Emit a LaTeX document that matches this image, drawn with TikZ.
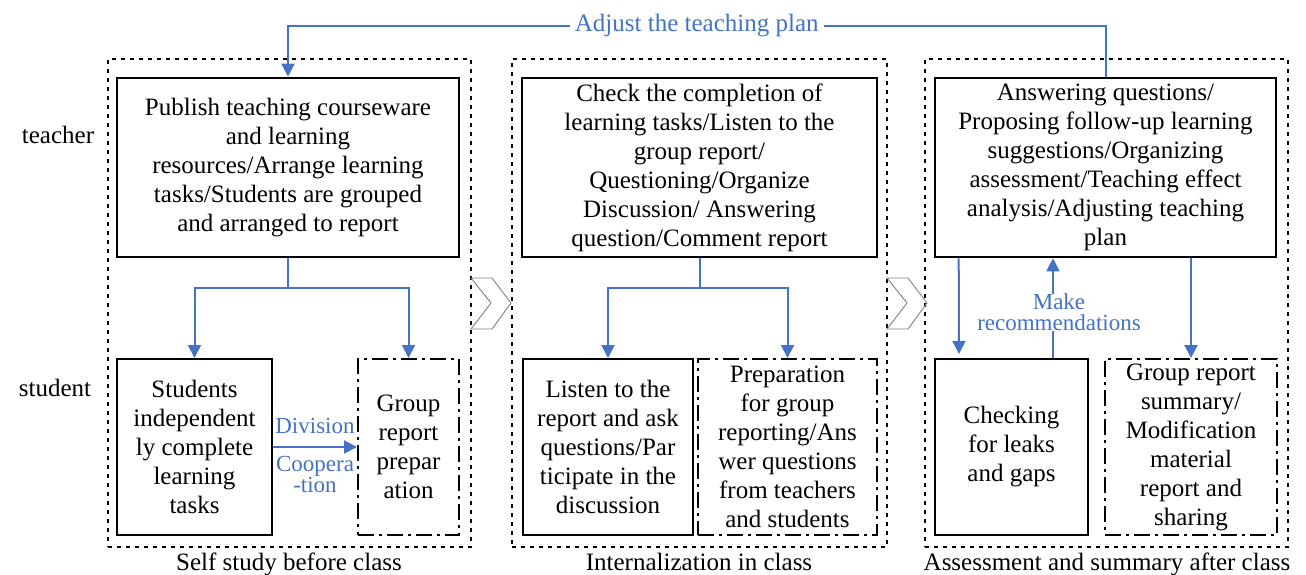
\documentclass[tikz,border=0pt]{standalone}
\usepackage{fontspec}
\setmainfont{Liberation Serif}
\usetikzlibrary{arrows.meta}
\definecolor{flowblue}{HTML}{4472C4}

\begin{document}
\begin{tikzpicture}[x=1pt, y=-1pt,
    every node/.style={font=\fontsize{25}{29}\selectfont, align=center, inner sep=0pt},
    tbox/.style={draw, line width=2.6pt, minimum height=179pt},
    sbox/.style={draw, line width=2pt, minimum height=176pt},
    pbox/.style={draw, line width=2pt, minimum height=176pt, dash pattern=on 16pt off 5pt on 3pt off 5pt},
    stage/.style={draw, line width=2.2pt, dash pattern=on 4pt off 5pt, minimum height=488pt},
    flow/.style={draw=flowblue, line width=2pt, -{Triangle[length=13pt,width=13pt]}},
    blabel/.style={text=flowblue, fill=white, font=\fontsize{23}{21}\selectfont},
    chev/.style={draw=gray, line width=0.9pt}]
    \useasboundingbox (0,0) rectangle (1306,574);

    % the three stages
    \node[stage, minimum width=363pt] (PA) at (289.5,303) {};
    \node[stage, minimum width=375pt] (PB) at (699.5,303) {};
    \node[stage, minimum width=363pt] (PC) at (1106.5,303) {};

    \node[anchor=base] (LA) at (289,570) {Self study before class};
    \node[anchor=base] (LB) at (699,570) {Internalization in class};
    \node[anchor=base] (LC) at (1107,570) {Assessment and summary after class};

    \node[anchor=base] (RT) at (58,143) {teacher};
    \node[anchor=base] (RS) at (55,396) {student};

    \foreach \cx in {471,887}
        \draw[chev] (\cx,278) -- ++(21,0) -- ++(19,25) -- ++(-19,26) -- ++(-21,0) -- ++(20,-26) -- cycle;

    % teacher row
    \node[tbox, minimum width=342pt] (TA) at (288,167.5) {Publish teaching courseware\\and learning\\resources/Arrange learning\\tasks/Students are grouped\\and arranged to report};
    \node[tbox, minimum width=355pt] (TB) at (699.5,167.5) {Check the completion of\\learning tasks/Listen to the\\group report/\\Questioning/Organize\\Discussion/ Answering\\question/Comment report};
    \node[tbox, minimum width=341pt] (TC) at (1105.5,167.5) {Answering questions/\\Proposing follow-up learning\\suggestions/Organizing\\assessment/Teaching effect\\analysis/Adjusting teaching\\plan};

    % student row
    \node[sbox, minimum width=155pt] (SA) at (194.5,447) {Students\\independent\\ly complete\\learning\\tasks};
    \node[pbox, minimum width=101pt] (SB) at (408.5,447) {Group\\report\\prepar\\ation};
    \node[sbox, minimum width=170pt] (SC) at (608,447) {Listen to the\\report and ask\\questions/Par\\ticipate in the\\discussion};
    \node[pbox, minimum width=179pt] (SD) at (787.5,447) {Preparation\\for group\\reporting/Ans\\wer questions\\from teachers\\and students};
    \node[sbox, minimum width=153pt] (SE) at (1011.5,447) {Checking\\for leaks\\and gaps};
    \node[pbox, minimum width=172pt] (SF) at (1191,447) {Group report\\summary/\\Modification\\material\\report and\\sharing};

    % connectors
    \coordinate (JA) at (288,288);
    \coordinate (JB) at (699.5,288);
    \coordinate (JT) at (288,26);
    \coordinate (UP) at ([xshift=-36pt]SE.north east);

    \draw[flow, -] (TA.south) -- (JA);
    \draw[flow] (JA) -| (SA.north);
    \draw[flow] (JA) -| (SB.north);
    \draw[flow, -] (TB.south) -- (JB);
    \draw[flow] (JB) -| (SC.north);
    \draw[flow] (JB) -| (SD.north);

    \draw[flow, shorten >=4pt] ([xshift=25pt]TC.south west) -- ([xshift=25pt]SE.north west);
    \draw[flow] (TC.south -| SF.north) -- (SF.north);
    \draw[flow] (UP) -- (UP |- TC.south) node[blabel, midway, xshift=6pt, yshift=-4pt] {Make\\recommendations};

    \draw[flow] (SA.east) -- (SB.west)
        node[blabel, midway, above=12pt, fill=none] {Division}
        node[blabel, midway, below=8pt, fill=none] {Coopera\\-tion};

    \draw[flow] (TC.north) |- (JT) node[blabel, pos=0.75, inner xsep=5pt, font=\fontsize{25}{29}\selectfont] {Adjust the teaching plan} -- (TA.north);
\end{tikzpicture}
\end{document}
